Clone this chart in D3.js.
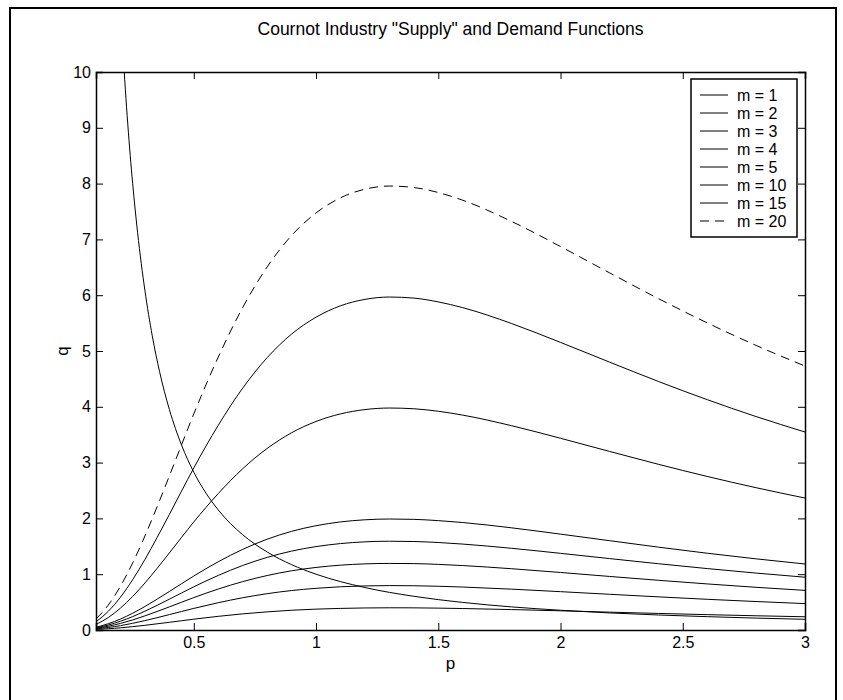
<!DOCTYPE html>
<html>
<head>
<meta charset="utf-8">
<script src="https://cdn.jsdelivr.net/npm/d3@7"></script>
<style>
  body { margin: 0; background: #fff; }
  text { font-family: "Liberation Sans", Arial, Helvetica, sans-serif; fill: #000; }
</style>
</head>
<body>
<div id="chart"></div>
<script>
// prices (x axis) shared by the supply curves
var prices = [0.1, 0.125, 0.15, 0.175, 0.2, 0.25, 0.3, 0.35, 0.4, 0.45, 0.5, 0.6, 0.7, 0.8, 0.9,
              1.0, 1.1, 1.2, 1.3, 1.4, 1.5, 1.6, 1.8, 2.0, 2.2, 2.4, 2.6, 2.8, 3.0];

// industry "supply", one array per number of firms m
var supply1  = [0.010, 0.016, 0.022, 0.030, 0.039, 0.060, 0.084, 0.111, 0.138, 0.166, 0.194, 0.245, 0.289, 0.325, 0.354,
                0.374, 0.387, 0.395, 0.398, 0.397, 0.392, 0.385, 0.366, 0.344, 0.320, 0.297, 0.275, 0.255, 0.237];
var supply2  = [0.020, 0.031, 0.045, 0.060, 0.078, 0.120, 0.168, 0.221, 0.276, 0.332, 0.387, 0.489, 0.578, 0.651, 0.707,
                0.747, 0.775, 0.790, 0.796, 0.793, 0.784, 0.770, 0.732, 0.687, 0.640, 0.594, 0.550, 0.510, 0.473];
var supply3  = [0.030, 0.047, 0.067, 0.091, 0.118, 0.180, 0.253, 0.332, 0.414, 0.498, 0.581, 0.734, 0.867, 0.976, 1.061,
                1.121, 1.162, 1.185, 1.193, 1.190, 1.176, 1.155, 1.098, 1.031, 0.960, 0.891, 0.826, 0.765, 0.710];
var supply4  = [0.040, 0.062, 0.089, 0.121, 0.157, 0.240, 0.337, 0.442, 0.552, 0.664, 0.774, 0.978, 1.156, 1.301, 1.414,
                1.495, 1.549, 1.580, 1.591, 1.586, 1.568, 1.540, 1.464, 1.374, 1.280, 1.188, 1.101, 1.020, 0.946];
var supply5  = [0.050, 0.078, 0.112, 0.151, 0.196, 0.301, 0.421, 0.553, 0.690, 0.830, 0.968, 1.223, 1.445, 1.627, 1.768,
                1.869, 1.937, 1.975, 1.989, 1.983, 1.960, 1.926, 1.831, 1.718, 1.601, 1.485, 1.376, 1.275, 1.183];
var supply10 = [0.100, 0.156, 0.223, 0.302, 0.392, 0.601, 0.842, 1.105, 1.380, 1.660, 1.936, 2.445, 2.890, 3.253, 3.535,
                3.737, 3.873, 3.950, 3.978, 3.965, 3.920, 3.851, 3.661, 3.436, 3.201, 2.970, 2.752, 2.550, 2.365];
var supply15 = [0.150, 0.233, 0.335, 0.453, 0.588, 0.902, 1.263, 1.658, 2.070, 2.490, 2.904, 3.668, 4.335, 4.880, 5.303,
                5.606, 5.810, 5.925, 5.967, 5.948, 5.880, 5.777, 5.492, 5.154, 4.802, 4.455, 4.128, 3.825, 3.548];
var supply20 = [0.200, 0.311, 0.446, 0.604, 0.784, 1.202, 1.684, 2.210, 2.760, 3.320, 3.872, 4.890, 5.780, 6.506, 7.070,
                7.474, 7.746, 7.900, 7.956, 7.930, 7.840, 7.702, 7.322, 6.872, 6.402, 5.940, 5.504, 5.100, 4.730];

// demand curve (own price grid, denser where it is steep)
var demandP = [0.2, 0.21, 0.22, 0.23, 0.24, 0.25, 0.27, 0.3, 0.33, 0.36, 0.4, 0.45, 0.5, 0.55, 0.6, 0.7, 0.8, 0.9,
               1.0, 1.2, 1.4, 1.6, 1.8, 2.0, 2.2, 2.4, 2.6, 2.8, 3.0];
var demandQ = [11.18, 10.39, 9.691, 9.066, 8.505, 8.0, 7.128, 6.086, 5.275, 4.630, 3.953, 3.313, 2.828, 2.452, 2.152, 1.707, 1.398, 1.171,
               1.0, 0.761, 0.604, 0.494, 0.414, 0.354, 0.306, 0.269, 0.239, 0.213, 0.192];

var legendLabels = ["m = 1", "m = 2", "m = 3", "m = 4", "m = 5", "m = 10", "m = 15", "m = 20"];
var supplySeries = [supply1, supply2, supply3, supply4, supply5, supply10, supply15, supply20];
var xTicks = [0.5, 1, 1.5, 2, 2.5, 3];
var yTicks = [0, 1, 2, 3, 4, 5, 6, 7, 8, 9, 10];

var width = 843;
var height = 700;
var margin = { top: 72, right: 38, bottom: 70, left: 96 };
var plotW = width - margin.left - margin.right;
var plotH = height - margin.top - margin.bottom;

var svg = d3.select('#chart')
            .append('svg')
            .attr('width', width)
            .attr('height', height);

// outer figure frame
svg.append('rect')
   .attr('x', 10).attr('y', 8)
   .attr('width', 826).attr('height', 700)
   .attr('fill', 'none')
   .attr('stroke', '#000')
   .attr('stroke-width', 2);

var xScale = d3.scaleLinear().domain([0.1, 3]).range([0, plotW]);
var yScale = d3.scaleLinear().domain([0, 10]).range([plotH, 0]);

var chartGroup = svg.append('g')
                    .attr('transform', 'translate(' + margin.left + ',' + margin.top + ')');

chartGroup.append('clipPath')
          .attr('id', 'plotClip')
          .append('rect')
          .attr('width', plotW)
          .attr('height', plotH);

var line = d3.line()
             .x(function(d){ return xScale(d[0]); })
             .y(function(d){ return yScale(d[1]); })
             .curve(d3.curveMonotoneX);

var curves = chartGroup.append('g').attr('clip-path', 'url(#plotClip)');

supplySeries.forEach(function(vals, i){
  curves.append('path')
        .datum(prices.map(function(p, j){ return [p, vals[j]]; }))
        .attr('d', line)
        .attr('fill', 'none')
        .attr('stroke', '#000')
        .attr('stroke-width', 1)
        .attr('stroke-dasharray', i === 7 ? '9,6' : null);
});

curves.append('path')
      .datum(demandP.map(function(p, j){ return [p, demandQ[j]]; }))
      .attr('d', line)
      .attr('fill', 'none')
      .attr('stroke', '#000')
      .attr('stroke-width', 1);

// axes with inward ticks on all four sides (box on)
var tickLen = 7;
var xAxisB = d3.axisBottom(xScale).tickValues(xTicks).tickSize(-tickLen).tickPadding(7).tickFormat(d3.format('~g'));
var xAxisT = d3.axisTop(xScale).tickValues(xTicks).tickSize(-tickLen).tickFormat('');
var yAxisL = d3.axisLeft(yScale).tickValues(yTicks).tickSize(-tickLen).tickPadding(5).tickFormat(d3.format('~g'));
var yAxisR = d3.axisRight(yScale).tickValues(yTicks).tickSize(-tickLen).tickFormat('');

chartGroup.append('g').attr('class', 'axis').attr('transform', 'translate(0,' + plotH + ')').call(xAxisB);
chartGroup.append('g').attr('class', 'axis').call(xAxisT);
chartGroup.append('g').attr('class', 'axis').call(yAxisL);
chartGroup.append('g').attr('class', 'axis').attr('transform', 'translate(' + plotW + ',0)').call(yAxisR);

chartGroup.selectAll('.axis .domain').attr('stroke', '#000').attr('stroke-width', 1.5);
chartGroup.selectAll('.axis line').attr('stroke', '#000').attr('stroke-width', 1);
chartGroup.selectAll('.axis text')
          .style('font-family', '"Liberation Sans", Arial, sans-serif')
          .style('font-size', '16px')
          .attr('fill', '#000');

// title and axis labels
svg.append('text')
   .attr('x', margin.left + plotW / 2)
   .attr('y', 35)
   .attr('text-anchor', 'middle')
   .style('font-size', '17.5px')
   .text('Cournot Industry "Supply" and Demand Functions');

svg.append('text')
   .attr('x', margin.left + plotW / 2)
   .attr('y', 669)
   .attr('text-anchor', 'middle')
   .style('font-size', '17px')
   .text('p');

svg.append('text')
   .attr('transform', 'translate(68,' + (margin.top + plotH / 2) + ') rotate(-90)')
   .attr('text-anchor', 'middle')
   .style('font-size', '17px')
   .text('q');

// legend
var legend = svg.append('g').attr('transform', 'translate(691,79)');
legend.append('rect')
      .attr('width', 106).attr('height', 158)
      .attr('fill', '#fff')
      .attr('stroke', '#000')
      .attr('stroke-width', 1.5);

legendLabels.forEach(function(lab, i){
  var cy = 16 + i * 18;
  legend.append('line')
        .attr('x1', 9).attr('x2', 37)
        .attr('y1', cy).attr('y2', cy)
        .attr('stroke', '#000')
        .attr('stroke-width', 1)
        .attr('stroke-dasharray', i === 7 ? '9,6' : null);
  legend.append('text')
        .attr('x', 46).attr('y', cy)
        .attr('dy', '0.35em')
        .style('font-size', '16px')
        .text(lab);
});
</script>
</body>
</html>
